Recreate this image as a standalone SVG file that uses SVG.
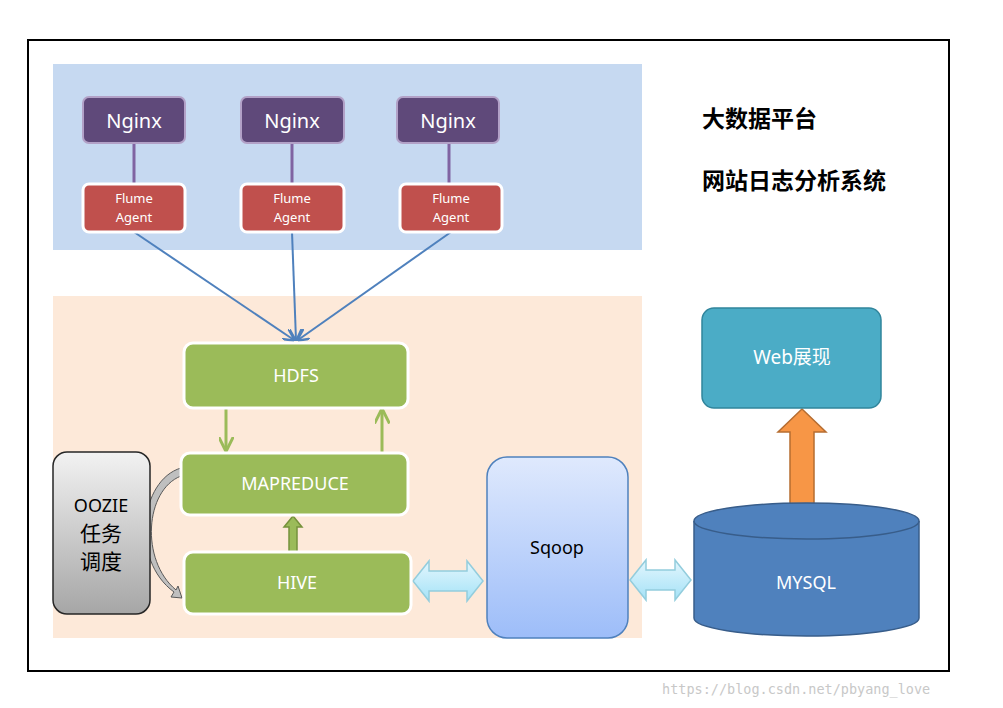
<svg xmlns="http://www.w3.org/2000/svg" width="1003" height="708" viewBox="0 0 1003 708">
<defs>
<style>
.t{font-family:"Noto Sans","Liberation Sans","Noto Sans CJK SC",sans-serif;text-anchor:middle}
.ng{fill:#5f497a;stroke:#b2a1c7;stroke-width:2}
.fl{fill:#c0504d;stroke:#fff;stroke-width:3}
.gr{fill:#9bbb59;stroke:#fff;stroke-width:3}
.blue{stroke:#4f81bd;stroke-width:2;fill:none}
.pl{stroke:#8064a2;stroke-width:3}
</style>
<linearGradient id="gg" x1="0" y1="0" x2="0" y2="1"><stop offset="0" stop-color="#f2f2f2"/><stop offset="1" stop-color="#a6a6a6"/></linearGradient>
<linearGradient id="bg" x1="0" y1="0" x2="0" y2="1"><stop offset="0" stop-color="#dfe9fd"/><stop offset="1" stop-color="#9dbdf9"/></linearGradient>
<linearGradient id="cg" x1="0" y1="0" x2="0" y2="1"><stop offset="0" stop-color="#e3f6fd"/><stop offset="1" stop-color="#a4e2f7"/></linearGradient>
<marker id="ab" viewBox="0 0 10 10" refX="9" refY="5" markerWidth="6" markerHeight="6" orient="auto"><path d="M0,0 L10,5 L0,10" fill="none" stroke="#4f81bd" stroke-width="2"/></marker>
<marker id="ag" viewBox="0 0 10 10" refX="9" refY="5" markerWidth="5" markerHeight="5" orient="auto"><path d="M0,0 L10,5 L0,10" fill="none" stroke="#9bbb59" stroke-width="2"/></marker>
</defs>
<rect width="1003" height="708" fill="#fff"/>
<rect x="28" y="40" width="921" height="631" fill="#fff" stroke="#000" stroke-width="2"/>
<rect x="53" y="64" width="589" height="186" fill="#c6d9f1"/>
<rect x="53" y="296" width="589" height="342" fill="#fde9d9"/>
<text x="702" y="127" font-family="Noto Sans CJK SC,sans-serif" font-weight="bold" font-size="23">大数据平台</text>
<text x="702" y="189" font-family="Noto Sans CJK SC,sans-serif" font-weight="bold" font-size="23">网站日志分析系统</text>
<g id="connectors">
<line class="pl" x1="134" y1="143" x2="134" y2="184"/>
<line class="pl" x1="292" y1="143" x2="292" y2="184"/>
<line class="pl" x1="449" y1="143" x2="449" y2="184"/>
<line class="blue" x1="134" y1="232" x2="294" y2="340" marker-end="url(#ab)"/>
<line class="blue" x1="292" y1="232" x2="296" y2="340" marker-end="url(#ab)"/>
<line class="blue" x1="451" y1="232" x2="298" y2="340" marker-end="url(#ab)"/>
<line x1="226" y1="408" x2="226" y2="450" stroke="#9bbb59" stroke-width="3" marker-end="url(#ag)"/>
<line x1="382" y1="453" x2="382" y2="410" stroke="#9bbb59" stroke-width="3" marker-end="url(#ag)"/>
<path d="M289,552 V527 H284 L293,516 L302,527 H297 V552 Z" fill="#9bbb59" stroke="#76923c" stroke-width="1.5"/>
<path d="M181,468 C140,480 130,560 174,592 L171,597 L182,598 L178,586 L176,590 C140,560 145,490 181,476 Z" fill="#bfbfbf" stroke="#595959" stroke-width="1"/>
<path d="M413,581 L429,561 V571 H467 V561 L483,581 L467,601 V591 H429 V601 Z" fill="url(#cg)" stroke="#93cddd" stroke-width="1.5"/>
<path d="M630,580 L646,560 V570 H675 V560 L691,580 L675,600 V590 H646 V600 Z" fill="url(#cg)" stroke="#93cddd" stroke-width="1.5"/>
<path d="M790,505 V432 H778 L802,409 L826,432 H814 V505 Z" fill="#f79646" stroke="#b66d31" stroke-width="1.5"/>
</g>
<g id="nginx1"><rect class="ng" x="83" y="97" width="102" height="46" rx="6"/><text class="t" x="134" y="128" font-size="20" fill="#fff">Nginx</text></g>
<g id="nginx2"><rect class="ng" x="241" y="97" width="103" height="46" rx="6"/><text class="t" x="292" y="128" font-size="20" fill="#fff">Nginx</text></g>
<g id="nginx3"><rect class="ng" x="397" y="97" width="102" height="46" rx="6"/><text class="t" x="448" y="128" font-size="20" fill="#fff">Nginx</text></g>
<g id="flume1"><rect class="fl" x="83" y="184" width="102" height="48" rx="6"/><text class="t" x="134" y="203" font-size="13" fill="#fff">Flume</text><text class="t" x="134" y="222" font-size="13" fill="#fff">Agent</text></g>
<g id="flume2"><rect class="fl" x="241" y="184" width="103" height="48" rx="6"/><text class="t" x="292" y="203" font-size="13" fill="#fff">Flume</text><text class="t" x="292" y="222" font-size="13" fill="#fff">Agent</text></g>
<g id="flume3"><rect class="fl" x="400" y="184" width="102" height="48" rx="6"/><text class="t" x="451" y="203" font-size="13" fill="#fff">Flume</text><text class="t" x="451" y="222" font-size="13" fill="#fff">Agent</text></g>
<g id="hdfs"><rect class="gr" x="184" y="343" width="224" height="65" rx="9"/><text class="t" x="296" y="382" font-size="18" fill="#fff">HDFS</text></g>
<g id="mapreduce"><rect class="gr" x="181" y="453" width="227" height="62" rx="9"/><text class="t" x="295" y="490" font-size="18" fill="#fff">MAPREDUCE</text></g>
<g id="hive"><rect class="gr" x="184" y="552" width="227" height="62" rx="9"/><text class="t" x="297" y="589" font-size="18" fill="#fff">HIVE</text></g>
<g id="oozie"><rect x="53" y="452" width="97" height="162" rx="14" fill="url(#gg)" stroke="#262626" stroke-width="1.5"/><text class="t" x="101" y="512" font-size="18" fill="#000">OOZIE</text><text class="t" x="101" y="541" font-size="21" fill="#000">任务</text><text class="t" x="101" y="569" font-size="21" fill="#000">调度</text></g>
<g id="sqoop"><rect x="487" y="457" width="141" height="181" rx="20" fill="url(#bg)" stroke="#4f81bd" stroke-width="1.5"/><text class="t" x="557" y="554" font-size="18" fill="#000">Sqoop</text></g>
<g id="mysql"><path d="M694,521 V618 A112.5,18 0 0 0 919,618 V521" fill="#4f81bd" stroke="#385d8a" stroke-width="1.5"/><ellipse cx="806.5" cy="521" rx="112.5" ry="18" fill="#4f81bd" stroke="#385d8a" stroke-width="1.5"/><text class="t" x="806" y="589" font-size="18" fill="#fff">MYSQL</text></g>
<g id="web"><rect x="702" y="308" width="179" height="100" rx="12" fill="#4bacc6" stroke="#31859c" stroke-width="1.5"/><text class="t" x="792" y="364" font-size="19" fill="#fff">Web展现</text></g>
<text x="662" y="694" font-family="DejaVu Sans Mono,monospace" font-size="13.5" fill="#c8c8c8">https://blog.csdn.net/pbyang_love</text>
</svg>
